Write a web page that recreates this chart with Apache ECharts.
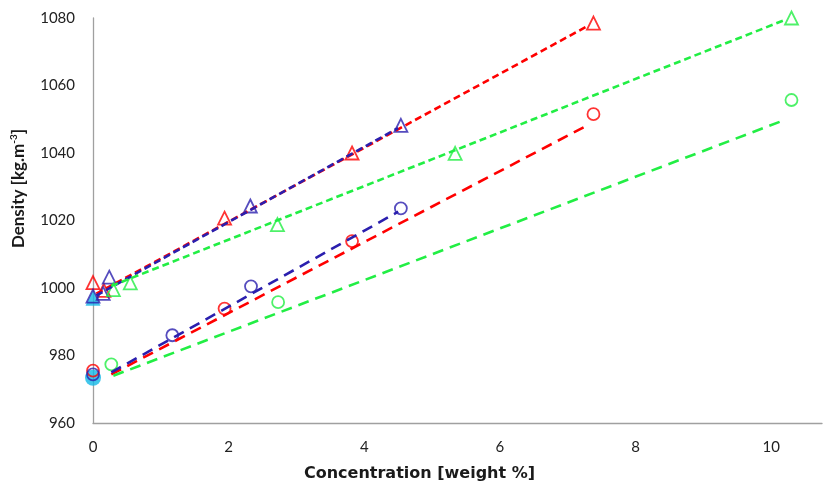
<!DOCTYPE html>
<html>
<head>
<meta charset="utf-8">
<script src="https://cdn.jsdelivr.net/npm/echarts@6/dist/echarts.min.js"></script>
<style>html,body{margin:0;padding:0;background:#fff}#c{width:825px;height:487px}</style>
</head>
<body>
<div id="c"></div>
<script>
// Measured points [concentration wt%, density kg/m3]
const triRed   = [[0,1001.6],[0.16,999.3],[1.94,1020.7],[3.82,1040.0],[7.38,1078.5]];
const triBlue  = [[0,997.6],[0.15,998.4],[0.24,1003.2],[2.32,1024.3],[4.54,1048.2]];
const triGreen = [[0.3,999.5],[0.55,1001.5],[2.72,1018.8],[5.34,1039.9],[10.3,1080.0]];
const triCyan  = [[0,997.0]];
const cirRed   = [[0,975.5],[1.94,993.9],[3.82,1013.9],[7.38,1051.5]];
const cirBlue  = [[0,974.4],[1.17,986.0],[2.33,1000.5],[4.54,1023.6]];
const cirGreen = [[0.27,977.4],[2.73,995.8],[10.3,1055.7]];
const cirCyan  = [[0,973.4]];
// Trend line end points
const fitTriRed   = [[0.05,998.3],[7.3,1077.7]];
const fitTriBlue  = [[0.05,997.8],[4.5,1047.4]];
const fitTriGreen = [[0.27,1000.6],[10.2,1079.4]];
const fitCirRed   = [[0.27,974.4],[7.3,1048.3]];
const fitCirBlue  = [[0.27,975.0],[4.5,1022.6]];
const fitCirGreen = [[0.3,974.0],[10.2,1049.8]];
const xTicks = [0,2,4,6,8,10];
const yTicks = [960,980,1000,1020,1040,1060,1080];

const RED='#ff0000', BLUE='#2b1fae', GREEN='#22ee44', CYAN='#12b8e6';
const FONT='Lato';

function hollow(name, data, symbol, color, size){
  return {name, type:'scatter', data, symbol, symbolSize:size, z:3, clip:false,
    itemStyle:{color:'rgba(255,255,255,0)', borderColor:color, borderWidth:1.8}};
}
function filled(name, data, symbol, size){
  return {name, type:'scatter', data, symbol, symbolSize:size, z:2, clip:false,
    itemStyle:{color:CYAN, borderWidth:0}};
}
function fit(name, data, color, dash){
  return {name, type:'line', data, showSymbol:false, symbol:'none', z:4, silent:true,
    lineStyle:{color, width:2.6, type:dash}};
}
const shortDash=[7,4], longDash=[11,7];

const chart = echarts.init(document.getElementById('c'), null, {renderer:'canvas'});
chart.setOption({
  animation:false,
  grid:{left:93, right:3, top:18, bottom:63, containLabel:false},
  xAxis:{type:'value', min:0, max:10.75, interval:2,
    name:'Concentration [weight %]', nameLocation:'middle', nameGap:43,
    nameTextStyle:{fontFamily:'DejaVu Sans', fontWeight:'bold', fontSize:16, color:'#1a1a1a', padding:[0,76,0,0]},
    axisLine:{show:true, lineStyle:{color:'#a0a0a0', width:1.3}},
    axisTick:{show:false}, splitLine:{show:false},
    axisLabel:{fontFamily:FONT, fontSize:15, color:'#222', margin:17, showMaxLabel:false,
      formatter:v=> xTicks.includes(v) ? String(v) : ''}
  },
  yAxis:{type:'value', min:960, max:1080, interval:20,
    name:'{b|Density [kg.m}{s|-3}{b|]}', nameLocation:'middle', nameGap:64, nameRotate:90,
    nameTextStyle:{padding:[0,0,0,64], rich:{
      b:{fontFamily:FONT, fontWeight:'bold', fontSize:17, color:'#1a1a1a', lineHeight:20},
      s:{fontFamily:FONT, fontWeight:'bold', fontSize:10, color:'#1a1a1a', verticalAlign:'top', lineHeight:20, padding:[0,0,6,0]}
    }},
    axisLine:{show:true, lineStyle:{color:'#a0a0a0', width:1.3}},
    axisTick:{show:false}, splitLine:{show:false},
    axisLabel:{fontFamily:FONT, fontSize:15, color:'#222', margin:18,
      formatter:v=> yTicks.includes(v) ? String(v) : ''}
  },
  series:[
    filled('Water triangle', triCyan, 'triangle', 15),
    filled('Water circle', cirCyan, 'circle', 16),
    hollow('Red triangles', triRed, 'triangle', RED, 13),
    hollow('Blue triangles', triBlue, 'triangle', BLUE, 13),
    hollow('Green triangles', triGreen, 'triangle', GREEN, 13),
    hollow('Red circles', cirRed, 'circle', RED, 12),
    hollow('Blue circles', cirBlue, 'circle', BLUE, 12),
    hollow('Green circles', cirGreen, 'circle', GREEN, 12),
    fit('Fit red triangles', fitTriRed, RED, shortDash),
    fit('Fit blue triangles', fitTriBlue, BLUE, shortDash),
    fit('Fit green triangles', fitTriGreen, GREEN, shortDash),
    fit('Fit red circles', fitCirRed, RED, longDash),
    fit('Fit blue circles', fitCirBlue, BLUE, longDash),
    fit('Fit green circles', fitCirGreen, GREEN, longDash)
  ]
});
</script>
</body>
</html>
